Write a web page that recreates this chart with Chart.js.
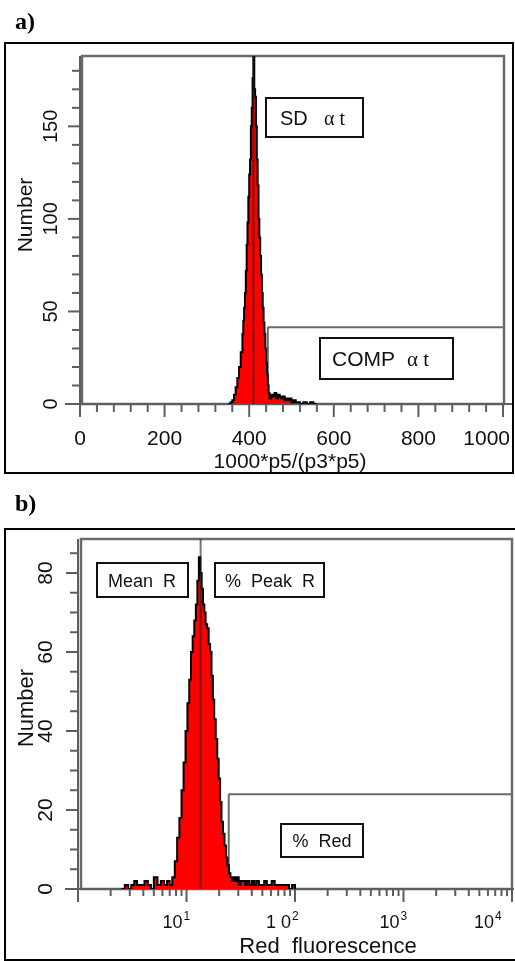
<!DOCTYPE html>
<html>
<head>
<meta charset="utf-8">
<script src="https://cdn.jsdelivr.net/npm/chart.js@4.4.0/dist/chart.umd.min.js"></script>
<style>
  body { margin: 0; background: #fff; }
  #painelA { position: absolute; left: 0; top: 0; }
  #painelB { position: absolute; left: 0; top: 480px; }
</style>
</head>
<body>
<canvas id="painelA" width="515" height="480"></canvas>
<canvas id="painelB" width="515" height="481"></canvas>
<script>
// painel a) histograma com eixo x linear
var canalA = [350, 356, 360, 364, 368, 372, 376, 380, 384, 386, 388, 390, 392, 394, 396, 398,
  400, 402, 404, 406, 408, 410, 412, 414, 416, 418, 420, 422, 424, 426, 428, 430, 432, 434,
  436, 438, 440, 442, 444, 446, 448, 452, 456, 460, 464, 468, 472, 476, 480, 484, 488, 492,
  496, 500, 505, 510, 515, 520, 528, 536, 544, 552, 560];
var contagemA = [0, 1, 2, 5, 9, 14, 20, 28, 38, 45, 52, 60, 72, 86, 98, 112,
  124, 132, 150, 160, 176, 188, 170, 166, 150, 132, 118, 100, 90, 80, 70, 60, 52, 44,
  38, 30, 22, 16, 10, 6, 3, 5, 4, 6, 3, 5, 4, 3, 4, 2, 3, 2,
  3, 1, 2, 1, 1, 0, 1, 0, 1, 0, 0];
var ticksXA = [0, 200, 400, 600, 800, 1000];
var ticksYA = [0, 50, 100, 150];

// painel b) histograma com eixo x log
var fluorB = [2.5, 2.7, 2.9, 3.1, 3.3, 3.5, 3.8, 4.1, 4.4, 4.7, 5.0, 5.4, 5.8, 6.2, 6.6, 7.0,
  7.4, 7.8, 8.2, 8.6, 9.0, 9.4, 9.8, 10.2, 10.6, 11.0, 11.4, 11.8, 12.2, 12.6, 13.0, 13.4,
  13.8, 14.2, 14.6, 15.0, 15.5, 16.0, 16.5, 17.0, 17.5, 18.0, 18.6, 19.2, 19.8, 20.4, 21.0,
  21.7, 22.4, 23.1, 23.8, 24.6, 25.4, 26.3, 27.2, 28.2, 29.2, 30.3, 31.5, 33, 34.5, 36, 38,
  40, 42, 44, 46.5, 49, 52, 55, 58, 61, 65, 69, 73, 78, 83, 88, 94, 100];
var contagemB = [0, 1, 0, 1, 2, 1, 1, 2, 1, 0, 3, 1, 2, 1, 2, 1,
  3, 7, 13, 18, 25, 32, 40, 47, 53, 60, 64, 68, 72, 78, 84, 80,
  76, 72, 70, 67, 66, 62, 60, 54, 48, 43, 38, 33, 28, 22, 17,
  14, 11, 8, 6, 4, 3, 2, 3, 2, 3, 1, 2, 2, 1, 2, 1,
  2, 1, 2, 1, 1, 2, 1, 1, 2, 1, 1, 1, 1, 1, 0, 1, 0];
var ticksXB = [10, 100, 1000, 10000];
var rotulosXB = [['10', '1'], ['1 0', '2'], ['10', '3'], ['10', '4']];
var ticksYB = [0, 20, 40, 60, 80];

var cinza = '#5e5e5e';
var fonteSans = '"Liberation Sans", Arial, sans-serif';

// junta x e y pro chart.js
function montaPontos(xs, ys) {
  var pontos = [];
  for (var i = 0; i < xs.length; i++) {
    pontos.push({ x: xs[i], y: ys[i] });
  }
  return pontos;
}

function linha(ctx, x1, y1, x2, y2) {
  ctx.beginPath();
  ctx.moveTo(x1, y1);
  ctx.lineTo(x2, y2);
  ctx.stroke();
}

// texto de lado (lendo de baixo pra cima)
function textoGirado(ctx, texto, x, y, fonte) {
  ctx.save();
  ctx.translate(x, y);
  ctx.rotate(-Math.PI / 2);
  ctx.font = fonte;
  ctx.fillStyle = '#111';
  ctx.textAlign = 'center';
  ctx.textBaseline = 'middle';
  ctx.fillText(texto, 0, 0);
  ctx.restore();
}

// caixinha branca com borda preta
function caixa(ctx, x, y, w, h) {
  ctx.fillStyle = '#fff';
  ctx.fillRect(x, y, w, h);
  ctx.strokeStyle = '#111';
  ctx.lineWidth = 2;
  ctx.strokeRect(x, y, w, h);
}

function escreve(ctx, texto, x, y, fonte, alinhamento) {
  ctx.font = fonte;
  ctx.fillStyle = '#111';
  ctx.textAlign = alinhamento || 'left';
  ctx.textBaseline = 'alphabetic';
  ctx.fillText(texto, x, y);
}

// desenho do painel a (fundo, eixos, gates)
var pluginA = {
  id: 'painelA',
  beforeDatasetsDraw: function(chart) {
    var ctx = chart.ctx;
    var area = chart.chartArea;
    var escX = chart.scales.x;
    var escY = chart.scales.y;
    var y0 = escY.getPixelForValue(0);
    ctx.save();

    // moldura preta de fora
    ctx.strokeStyle = '#000';
    ctx.lineWidth = 2;
    ctx.strokeRect(5, 43, 508, 430);
    ctx.font = 'bold 24px "Liberation Serif", serif';
    ctx.fillStyle = '#000';
    ctx.fillText('a)', 15, 29);

    // quadro cinza do grafico
    ctx.strokeStyle = '#6a6a6a';
    ctx.lineWidth = 2.5;
    ctx.strokeRect(area.left + 2, area.top, area.right + 1 - area.left - 2, y0 - area.top);

    // gate COMP
    var xComp = escX.getPixelForValue(444);
    var yComp = escY.getPixelForValue(41.5);
    ctx.lineWidth = 2;
    linha(ctx, xComp, y0, xComp, yComp);
    linha(ctx, xComp, yComp, area.right + 1, yComp);

    // eixo x
    ctx.strokeStyle = cinza;
    ctx.lineWidth = 2;
    linha(ctx, 65, y0, 512, y0);
    for (var v = 0; v <= 1000; v += 40) {
      var px = escX.getPixelForValue(v);
      linha(ctx, px, y0, px, y0 + (v % 200 === 0 ? 13 : 8));
    }
    ctx.font = '21px ' + fonteSans;
    for (var i = 0; i < ticksXA.length; i++) {
      var tx = escX.getPixelForValue(ticksXA[i]);
      var larg = ctx.measureText(String(ticksXA[i])).width;
      if (tx + larg / 2 > 510) tx = 510 - larg / 2;
      escreve(ctx, String(ticksXA[i]), tx, 445, '21px ' + fonteSans, 'center');
    }
    escreve(ctx, '1000*p5/(p3*p5)', 290, 468, '21px ' + fonteSans, 'center');

    // eixo y
    ctx.strokeStyle = cinza;
    linha(ctx, area.left, area.top, area.left, y0 + 12);
    for (var w = 0; w <= 180; w += 10) {
      var py = escY.getPixelForValue(w);
      linha(ctx, area.left - (w % 50 === 0 ? 12 : 8), py, area.left, py);
    }
    for (var j = 0; j < ticksYA.length; j++) {
      textoGirado(ctx, String(ticksYA[j]), 51, escY.getPixelForValue(ticksYA[j]), '20px ' + fonteSans);
    }
    textoGirado(ctx, 'Number', 26, 215, '21px ' + fonteSans);
    ctx.restore();
  },
  afterDatasetsDraw: function(chart) {
    var ctx = chart.ctx;
    var area = chart.chartArea;
    var escX = chart.scales.x;
    ctx.save();
    // linha do pico
    var xPico = escX.getPixelForValue(410);
    ctx.strokeStyle = 'rgba(30, 30, 30, 0.6)';
    ctx.lineWidth = 2;
    linha(ctx, xPico, area.top, xPico, chart.scales.y.getPixelForValue(0));

    // caixas de texto
    caixa(ctx, 266, 98, 97, 39);
    escreve(ctx, 'SD', 280, 125, '20px ' + fonteSans);
    escreve(ctx, 'α t', 324, 125, '20px "Liberation Serif", serif');
    caixa(ctx, 320, 338, 133, 41);
    escreve(ctx, 'COMP', 332, 366, '21px ' + fonteSans);
    escreve(ctx, 'α t', 407, 366, '21px "Liberation Serif", serif');
    ctx.restore();
  }
};

// desenho do painel b
var pluginB = {
  id: 'painelB',
  beforeDatasetsDraw: function(chart) {
    var ctx = chart.ctx;
    var area = chart.chartArea;
    var escX = chart.scales.x;
    var escY = chart.scales.y;
    var y0 = escY.getPixelForValue(0);
    ctx.save();

    ctx.strokeStyle = '#000';
    ctx.lineWidth = 2;
    ctx.strokeRect(5, 49, 512, 431);
    ctx.font = 'bold 24px "Liberation Serif", serif';
    ctx.fillStyle = '#000';
    ctx.fillText('b)', 15, 31);

    ctx.strokeStyle = '#6a6a6a';
    ctx.lineWidth = 2.5;
    ctx.strokeRect(area.left + 3, area.top, area.right - area.left - 3, y0 - area.top);

    // gate % Red
    var xRed = escX.getPixelForValue(24.5);
    var yRed = escY.getPixelForValue(24);
    ctx.lineWidth = 2;
    linha(ctx, xRed, y0, xRed, yRed);
    linha(ctx, xRed, yRed, area.right, yRed);

    // eixo x log
    ctx.strokeStyle = cinza;
    linha(ctx, 65, y0, 514, y0);
    var decadas = [1, 10, 100, 1000];
    for (var d = 0; d < decadas.length; d++) {
      for (var m = 1; m <= 9; m++) {
        var px = escX.getPixelForValue(decadas[d] * m);
        linha(ctx, px, y0, px, y0 + (m === 1 ? 13 : 7));
      }
    }
    var pxFim = escX.getPixelForValue(10000);
    linha(ctx, pxFim, y0, pxFim, y0 + 13);

    for (var i = 0; i < ticksXB.length; i++) {
      var tx = escX.getPixelForValue(ticksXB[i]) - 4;
      if (tx > 494) tx = 494;
      escreve(ctx, rotulosXB[i][0], tx, 448, '18px ' + fonteSans, 'right');
      escreve(ctx, rotulosXB[i][1], tx + 1, 440, '12px ' + fonteSans, 'left');
    }
    escreve(ctx, 'Red  fluorescence', 328, 473, '22px ' + fonteSans, 'center');

    // eixo y
    ctx.strokeStyle = cinza;
    linha(ctx, area.left, area.top, area.left, y0 + 13);
    for (var w = 0; w <= 85; w += 5) {
      var py = escY.getPixelForValue(w);
      linha(ctx, area.left - (w % 20 === 0 ? 12 : 8), py, area.left, py);
    }
    for (var j = 0; j < ticksYB.length; j++) {
      textoGirado(ctx, String(ticksYB[j]), 46, escY.getPixelForValue(ticksYB[j]), '21px ' + fonteSans);
    }
    textoGirado(ctx, 'Number', 27, 228, '22px ' + fonteSans);
    ctx.restore();
  },
  afterDatasetsDraw: function(chart) {
    var ctx = chart.ctx;
    var area = chart.chartArea;
    var escX = chart.scales.x;
    ctx.save();
    // linha da media
    var xMedia = escX.getPixelForValue(13.5);
    ctx.strokeStyle = 'rgba(30, 30, 30, 0.6)';
    ctx.lineWidth = 2;
    linha(ctx, xMedia, area.top, xMedia, chart.scales.y.getPixelForValue(0));

    caixa(ctx, 97, 83, 91, 34);
    escreve(ctx, 'Mean  R', 142, 107, '18px ' + fonteSans, 'center');
    caixa(ctx, 215, 83, 109, 34);
    escreve(ctx, '%  Peak  R', 270, 107, '18px ' + fonteSans, 'center');
    caixa(ctx, 281, 344, 82, 33);
    escreve(ctx, '%  Red', 322, 367, '18px ' + fonteSans, 'center');
    ctx.restore();
  }
};

function opcoes(padding, escalaX, yMax) {
  return {
    responsive: false,
    animation: false,
    devicePixelRatio: 1,
    layout: { padding: padding },
    plugins: { legend: { display: false }, tooltip: { enabled: false } },
    scales: {
      x: escalaX,
      y: { type: 'linear', min: 0, max: yMax, display: false }
    }
  };
}

function dataset(pontos) {
  return {
    data: pontos,
    stepped: true,
    fill: 'origin',
    backgroundColor: '#ff0000',
    borderColor: '#000',
    borderWidth: 2,
    pointRadius: 0
  };
}

new Chart(document.getElementById('painelA'), {
  type: 'line',
  data: { datasets: [dataset(montaPontos(canalA, contagemA))] },
  options: opcoes({ left: 80, right: 12, top: 56, bottom: 76 },
    { type: 'linear', min: 0, max: 1000, display: false }, 188),
  plugins: [pluginA]
});

new Chart(document.getElementById('painelB'), {
  type: 'line',
  data: { datasets: [dataset(montaPontos(fluorB, contagemB))] },
  options: opcoes({ left: 78, right: 3, top: 59, bottom: 72 },
    { type: 'logarithmic', min: 1, max: 10000, display: false }, 88.6),
  plugins: [pluginB]
});
</script>
</body>
</html>
